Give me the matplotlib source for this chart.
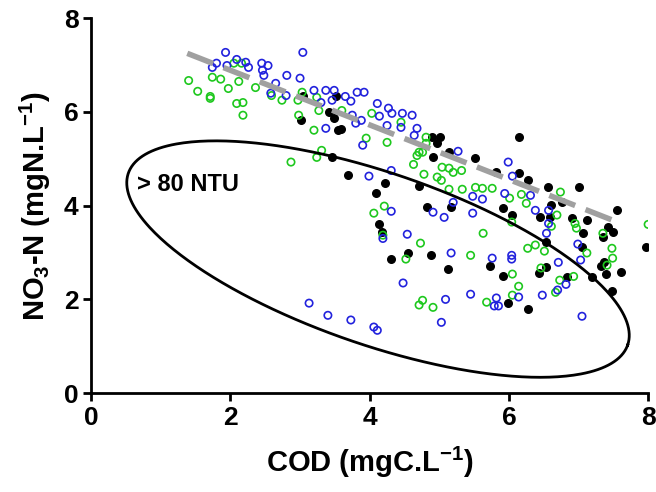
import numpy as np
import matplotlib.pyplot as plt

plt.rcParams['font.family'] = ['Liberation Sans', 'DejaVu Sans']
plt.rcParams['font.weight'] = 'bold'
plt.rcParams['mathtext.fontset'] = 'custom'
plt.rcParams['mathtext.rm'] = 'Liberation Sans:bold'
plt.rcParams['mathtext.default'] = 'rm'

# Data (COD mgC/L, NO3-N mgN/L)
black_x = [3.01, 3.04, 3.52, 3.41, 3.49, 3.59, 3.54, 4.90, 5.01, 4.97, 4.91, 5.14, 5.52, 3.46,
           3.69, 6.14, 5.82, 6.15, 6.27, 6.56, 7.00, 6.61, 6.77, 6.44, 6.59, 6.90, 7.12, 7.55,
           7.42, 7.49, 7.35, 7.06, 6.04, 5.92, 6.54, 7.05, 7.97, 7.36, 7.32, 5.73, 5.92, 6.43,
           6.53, 6.84, 7.19, 7.39, 7.61, 7.48, 5.99, 6.27, 4.22, 4.09, 4.14, 4.18, 4.55, 4.31,
           4.88, 5.13, 4.83, 5.17, 4.71]
black_y = [5.82, 6.35, 6.35, 5.99, 5.88, 5.63, 5.61, 5.46, 5.46, 5.33, 5.03, 5.14, 5.01, 5.03,
           4.65, 5.46, 4.71, 4.69, 4.54, 4.39, 4.39, 4.01, 4.07, 3.75, 3.75, 3.73, 3.69, 3.90,
           3.54, 3.43, 3.33, 3.41, 3.80, 3.94, 3.22, 3.11, 3.11, 2.79, 2.71, 2.71, 2.49, 2.56,
           2.69, 2.47, 2.47, 2.54, 2.58, 2.17, 1.92, 1.79, 4.48, 4.26, 3.60, 3.43, 2.99, 2.86,
           2.94, 2.64, 3.97, 3.97, 4.41]

blue_x = [1.93, 3.04, 1.80, 1.74, 2.09, 2.22, 1.95, 2.45, 2.54, 2.26, 2.46, 2.48, 2.81, 3.00,
          2.65, 2.58, 2.80, 3.20, 3.37, 3.49, 3.30, 3.46, 3.65, 3.73, 3.82, 3.92, 4.11, 4.27,
          4.32, 4.47, 4.61, 3.75, 3.80, 3.88, 4.14, 4.25, 4.45, 4.68, 4.64, 3.90, 3.37, 5.27,
          4.31, 3.99, 5.99, 6.05, 5.62, 5.94, 6.31, 6.38, 6.57, 6.57, 6.54, 6.99, 7.03, 6.71,
          5.76, 6.04, 6.04, 6.82, 6.70, 6.48, 6.14, 5.82, 5.79, 5.85, 7.05, 4.31, 4.19, 4.54,
          4.91, 5.07, 5.20, 5.48, 5.48, 5.17, 4.48, 5.09, 5.45, 3.40, 3.73, 4.06, 4.11, 5.03,
          3.13]
blue_y = [7.27, 7.27, 7.04, 6.95, 7.12, 7.06, 6.99, 7.04, 6.99, 6.95, 6.89, 6.78, 6.78, 6.72,
          6.61, 6.40, 6.35, 6.46, 6.46, 6.46, 6.20, 6.25, 6.33, 6.23, 6.42, 6.42, 6.18, 6.08,
          5.97, 5.97, 5.93, 5.93, 5.76, 5.82, 5.91, 5.71, 5.67, 5.65, 5.50, 5.29, 5.65, 5.16,
          4.75, 4.63, 4.93, 4.63, 4.14, 4.26, 4.22, 3.90, 3.90, 3.62, 3.41, 3.18, 2.84, 2.79,
          2.88, 2.94, 2.86, 2.32, 2.20, 2.09, 2.05, 2.03, 1.86, 1.86, 1.64, 3.88, 3.30, 3.39,
          3.86, 3.75, 4.07, 3.84, 4.20, 2.99, 2.35, 2.00, 2.11, 1.66, 1.56, 1.41, 1.34, 1.51,
          1.92]

green_x = [1.40, 1.53, 1.71, 1.71, 1.74, 1.86, 1.97, 2.12, 2.16, 2.05, 2.09, 2.18, 2.18, 2.36,
           2.59, 2.74, 2.97, 2.98, 2.87, 3.03, 3.24, 3.27, 3.60, 4.03, 4.45, 3.20, 3.95, 4.25,
           4.81, 4.81, 4.71, 4.76, 4.68, 4.63, 5.04, 5.14, 5.20, 5.32, 4.78, 4.97, 3.31, 3.24,
           5.62, 5.76, 6.01, 6.18, 6.74, 6.25, 6.69, 6.61, 6.04, 5.63, 6.95, 6.97, 7.35, 8.00,
           7.48, 7.49, 7.41, 7.12, 6.51, 6.27, 6.38, 6.46, 6.05, 6.73, 6.93, 6.14, 6.05, 5.68,
           6.67, 4.06, 4.21, 4.19, 4.73, 4.52, 5.45, 4.76, 4.71, 4.91, 5.14, 5.33, 5.52, 5.03]
green_y = [6.67, 6.44, 6.33, 6.29, 6.74, 6.70, 6.50, 6.65, 7.04, 7.04, 6.18, 6.20, 5.93, 6.52,
           6.35, 6.25, 6.25, 5.93, 4.93, 6.42, 6.31, 6.03, 6.03, 5.97, 5.78, 5.61, 5.44, 5.35,
           5.46, 5.33, 5.14, 5.14, 5.07, 4.88, 4.82, 4.80, 4.71, 4.75, 4.67, 4.61, 5.18, 5.03,
           4.37, 4.37, 4.16, 4.24, 4.29, 4.05, 3.80, 3.56, 3.65, 3.41, 3.62, 3.52, 3.41, 3.60,
           3.09, 2.88, 2.73, 2.99, 3.03, 3.09, 3.16, 2.67, 2.54, 2.41, 2.49, 2.28, 2.09, 1.94,
           2.15, 3.84, 3.99, 3.37, 3.20, 2.86, 2.94, 1.98, 1.88, 1.83, 4.35, 4.35, 4.39, 4.54]

# trend line end points
fit_x = [1.38, 7.49]
fit_y = [7.25, 3.69]

fig = plt.figure(figsize=(6.56, 4.92), dpi=100)
ax = fig.add_axes([0.139, 0.201, 0.849, 0.762])

ax.scatter(black_x, black_y, s=30, color='black', zorder=3)
ax.scatter(green_x, green_y, s=28, facecolors='none', edgecolors='#1ec81e', linewidths=1.2, zorder=3)
ax.scatter(blue_x, blue_y, s=28, facecolors='none', edgecolors='#2222dd', linewidths=1.2, zorder=3)

ax.plot(fit_x, fit_y, color='#a0a0a0', lw=4, dashes=(5, 2), solid_capstyle='butt', zorder=4)

# ellipse drawn in display-proportional units (px per data unit on each axis)
sx, sy = 69.6, 46.9
cx, cy = 4.12, 2.86
a_px, b_px, ang = 264, 86, np.deg2rad(-19)
t = np.linspace(0, 2 * np.pi, 400)
ex = a_px * np.cos(t) * np.cos(ang) - b_px * np.sin(t) * np.sin(ang)
ey = a_px * np.cos(t) * np.sin(ang) + b_px * np.sin(t) * np.cos(ang)
ax.plot(cx + ex / sx, cy + ey / sy, color='black', lw=2, zorder=5)

ax.text(0.66, 4.46, '> 80 NTU', fontsize=17, fontweight='bold', va='center', ha='left')

ax.set_xlim(0, 8)
ax.set_ylim(0, 8)
ax.set_xticks([0, 2, 4, 6, 8])
ax.set_yticks([0, 2, 4, 6, 8])
ax.spines['top'].set_visible(False)
ax.spines['right'].set_visible(False)
for s in ['left', 'bottom']:
    ax.spines[s].set_linewidth(2)
ax.tick_params(width=2, length=6, labelsize=19, pad=3)
ax.set_xlabel('COD (mgC.L$^{-1}$)', fontsize=21, fontweight='bold', labelpad=11)
ax.set_ylabel('NO$_3$-N (mgN.L$^{-1}$)', fontsize=21, fontweight='bold', labelpad=8)

fig.savefig('out.png', dpi=100)
